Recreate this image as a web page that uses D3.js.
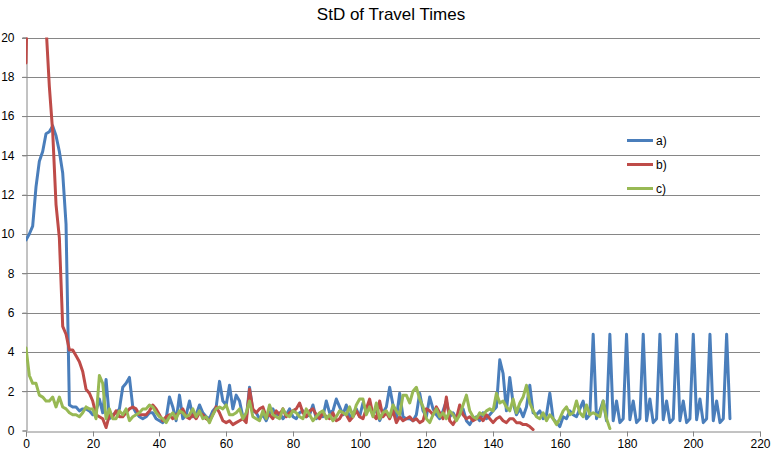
<!DOCTYPE html>
<html><head><meta charset="utf-8">
<script src="https://cdn.jsdelivr.net/npm/d3@7"></script>
<style>body{margin:0;background:#fff}svg{display:block}text{font-family:"Liberation Sans",Arial,sans-serif}</style>
</head><body><svg id="c" width="772" height="452"></svg>
<script>
const xTicks = [0,20,40,60,80,100,120,140,160,180,200,220];
const yTicks = [0,2,4,6,8,10,12,14,16,18,20];
const seriesNames = ["a)","b)","c)"];
const seriesColors = ["#4a7ebb","#be4b48","#98b954"];
const seriesA = [9.7,10.0,10.4,12.4,13.7,14.2,15.1,15.2,15.5,15.0,14.2,13.1,10.5,
1.3,1.2,1.2,1.0,1.1,1.1,1.0,0.8,
1.0,1.6,0.9,2.6,0.6,0.8,0.9,1.1,2.2,2.4,
2.7,1.2,0.9,0.7,0.6,0.7,0.9,0.9,0.6,0.5,
0.4,0.6,1.7,1.2,0.5,1.8,0.6,0.8,1.5,0.7,
0.8,1.3,0.9,0.7,0.6,1.0,1.2,2.5,1.5,1.3,
2.3,1.1,1.8,1.5,0.7,0.6,2.2,1.0,0.9,0.6,
0.8,0.5,0.9,1.1,0.7,0.9,0.6,0.8,1.1,0.7,
0.6,0.9,1.0,0.7,0.8,1.3,0.6,0.8,0.7,1.5,
0.9,1.0,1.6,1.2,0.8,1.3,0.6,0.9,1.1,0.7,
1.4,1.0,1.3,0.8,1.1,0.5,0.9,1.2,2.2,1.3,
0.6,1.9,0.7,0.6,0.6,0.5,0.8,1.9,1.0,0.7,
1.7,1.1,0.8,0.6,1.0,1.5,0.7,0.9,0.6,0.8,
1.1,0.5,0.3,0.6,0.7,0.5,0.9,0.6,0.8,1.0,
1.2,3.6,2.9,1.0,2.7,1.4,0.8,1.1,0.7,1.2,
2.3,0.9,0.8,1.0,0.6,0.8,1.9,0.6,0.4,0.2,
0.7,0.6,1.0,0.8,0.7,1.1,1.5,0.6,0.8,4.9,
0.6,1.0,1.5,0.5,4.9,
0.5,1.5,0.4,0.6,4.9,
0.55,1.5,0.4,0.6,4.9,
0.5,1.6,0.4,0.6,4.9,
0.55,1.5,0.4,0.6,4.9,
0.5,1.5,0.4,0.6,4.9,
0.55,1.6,0.4,0.6,4.9,
0.5,1.5,0.4,0.6,4.9,
0.6];
const seriesB = [18.7,27,30,31,29,25,20.6,17.5,15.2,11.5,9.8,
5.3,4.9,4.1,4.1,3.8,3.5,3.0,2.1,1.9,1.5,
0.8,0.7,0.6,0.15,0.8,0.7,1.0,0.7,0.7,0.9,
1.1,1.2,1.1,0.8,0.8,0.8,1.0,1.3,1.1,0.8,
0.5,0.7,0.8,0.6,0.8,0.9,1.1,0.7,0.6,0.8,
0.6,0.9,0.8,0.6,0.5,0.8,1.2,0.9,0.5,0.4,
0.5,0.3,0.4,0.5,0.6,0.4,2.1,1.1,0.9,1.1,
1.2,0.7,0.8,0.6,1.0,0.8,1.1,0.7,0.9,1.0,
1.1,1.4,0.9,0.7,1.0,1.1,0.8,0.6,0.9,0.7,
0.6,0.9,0.5,0.6,0.9,0.8,0.5,0.7,1.0,0.7,
0.6,1.1,1.6,0.8,0.6,1.5,0.7,0.9,0.6,1.0,
0.4,0.7,0.5,0.6,0.7,0.5,0.6,0.4,0.5,1.1,
1.0,0.8,1.2,0.9,0.6,1.7,0.5,0.3,0.6,1.3,
0.8,0.6,0.7,0.5,0.6,0.7,0.5,0.8,0.6,0.4,
0.6,0.7,0.5,0.4,0.6,0.6,0.4,0.4,0.3,0.3,0.2,0.05];
const seriesC = [4.2,2.8,2.4,2.4,1.8,1.7,1.5,1.5,1.7,1.2,1.7,
1.2,1.1,0.9,0.8,0.8,0.7,0.9,1.2,1.1,1.1,
0.6,2.8,2.4,0.6,1.1,0.6,0.6,1.0,0.8,1.1,
0.5,0.7,0.8,0.9,1.1,1.1,1.3,1.2,0.9,0.7,
0.6,0.4,0.7,0.9,0.6,1.0,0.9,0.7,0.8,1.1,
0.7,1.0,0.6,0.7,0.4,0.8,1.1,1.2,1.1,1.3,
0.8,0.8,0.9,1.1,0.6,0.9,1.5,0.7,0.6,0.5,
1.0,0.6,1.3,0.8,0.7,0.6,1.1,0.8,0.7,1.0,
0.9,0.7,0.6,1.1,0.8,0.5,0.7,0.9,1.0,0.6,
0.8,0.5,0.7,1.0,0.9,0.8,1.2,0.7,1.3,1.6,
1.6,0.8,1.2,0.7,1.4,0.6,0.9,1.0,0.7,1.3,
1.0,0.8,1.8,1.8,1.4,2.0,2.2,1.6,1.2,0.6,
0.4,0.8,1.1,0.7,0.9,0.6,1.0,0.8,0.5,0.8,
1.3,1.8,1.0,0.7,0.6,0.9,0.8,1.0,1.1,1.0,
1.9,1.4,1.5,1.2,1.0,1.6,0.9,1.4,1.7,2.3,
1.4,1.0,0.7,0.6,0.9,0.5,0.8,0.6,0.3,0.6,
1.0,1.2,0.8,0.9,1.5,0.9,0.7,1.3,0.8,0.9,
0.8,0.7,1.5,0.6,0.1];
const series = [seriesA, seriesB, seriesC];

const svg = d3.select("#c");
const x = d3.scaleLinear().domain([0,220]).range([26,760]);
const y = d3.scaleLinear().domain([0,20]).range([430.5,37.5]);

svg.append("text").attr("x",391).attr("y",20).attr("text-anchor","middle")
  .style("font-size","17px").attr("fill","#000").text("StD of Travel Times");

// gridlines
svg.append("g").selectAll("line").data(yTicks.filter(d=>d>0)).join("line")
  .attr("x1",x(0)-4).attr("x2",x(220)).attr("y1",d=>Math.round(y(d))+0.5).attr("y2",d=>Math.round(y(d))+0.5)
  .attr("stroke","#868686").attr("stroke-width",1);

// y axis
const ya = svg.append("g").attr("transform",`translate(${Math.round(x(0))+0.5},0)`)
  .call(d3.axisLeft(y).tickValues(yTicks).tickSize(4).tickPadding(8));
// x axis
const xa = svg.append("g").attr("transform",`translate(0,${Math.round(y(0))+0.5})`)
  .call(d3.axisBottom(x).tickValues(xTicks).tickSize(5).tickPadding(3));
[ya,xa].forEach(a=>{
  a.select(".domain").attr("stroke","#868686");
  a.selectAll(".tick line").attr("stroke","#868686");
  a.selectAll("text").style("font-size","12px").style("font-family","'Liberation Sans',Arial,sans-serif").attr("fill","#000");
});
xa.selectAll(".tick").attr("transform",d=>`translate(${Math.round(x(d))+0.5},0)`);

svg.append("clipPath").attr("id","clip").append("rect")
  .attr("x",x(0)).attr("y",y(20)).attr("width",x(220)-x(0)+2).attr("height",y(0)-y(20)+2);

const line = d3.line().x((d,i)=>x(i)).y(d=>y(d));
[0,1,2].forEach(k=>{
  svg.append("path").datum(series[k]).attr("clip-path","url(#clip)")
    .attr("fill","none").attr("stroke",seriesColors[k]).attr("stroke-width",3)
    .attr("stroke-linejoin","round").attr("stroke-linecap","round").attr("d",line);
});

// legend
const lg = svg.append("g");
seriesNames.forEach((n,i)=>{
  const yy = 140.5 + i*24;
  lg.append("line").attr("x1",627).attr("x2",653).attr("y1",yy).attr("y2",yy)
    .attr("stroke",seriesColors[i]).attr("stroke-width",3);
  lg.append("text").attr("x",656).attr("y",yy+4).style("font-size","12px").attr("fill","#000").text(n);
});
</script></body></html>
